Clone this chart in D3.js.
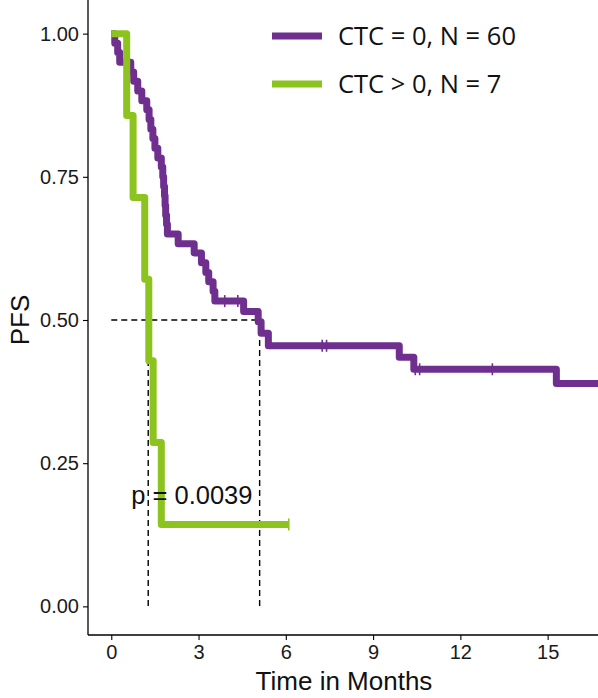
<!DOCTYPE html>
<html><head><meta charset="utf-8">
<script src="https://cdn.jsdelivr.net/npm/d3@7"></script>
<style>body{margin:0;background:#fff}svg{display:block}</style>
</head><body>
<script>
// Data
const groupNames = ["CTC = 0, N = 60", "CTC > 0, N = 7"];
const groupColors = ["#6f2f8f", "#8cc31e"];
const purpleTimes = [0, 0.12, 0.22, 0.29, 0.67, 0.77, 0.91, 1.05, 1.22, 1.30, 1.36, 1.43, 1.50, 1.60, 1.72, 1.77, 1.80, 1.83, 1.85, 1.87, 1.90, 1.93, 2.30, 2.85, 3.10, 3.25, 3.35, 3.50, 3.56, 4.55, 5.05, 5.15, 5.40, 9.90, 10.40, 15.30, 16.8];
const purpleSurv = [1.0, 0.983, 0.967, 0.95, 0.933, 0.917, 0.9, 0.883, 0.867, 0.85, 0.833, 0.817, 0.8, 0.783, 0.767, 0.75, 0.733, 0.717, 0.7, 0.683, 0.667, 0.65, 0.633, 0.617, 0.6, 0.583, 0.567, 0.55, 0.533, 0.515, 0.497, 0.477, 0.455, 0.435, 0.414, 0.389, 0.389];
const purpleCensorTimes = [3.9, 4.35, 7.25, 7.4, 10.45, 10.6, 13.1];
const greenTimes = [0, 0.53, 0.75, 1.15, 1.29, 1.44, 1.72, 6.1];
const greenSurv = [1.0, 0.857, 0.714, 0.571, 0.429, 0.286, 0.143, 0.143];
const greenCensorTimes = [6.1];
const medianTimes = [1.27, 5.1];
const pText = "p = 0.0039";
const xTicks = [0, 3, 6, 9, 12, 15];
const yTicks = [0, 0.25, 0.5, 0.75, 1.0];

const W = 598, H = 698;
const FONT = "'Liberation Sans', Arial, sans-serif";
const svg = d3.select("body").append("svg").attr("width", W).attr("height", H);
const x = d3.scaleLinear().domain([-0.8, 16.8]).range([88, 600]);
const y = d3.scaleLinear().domain([-0.05, 1.05]).range([635, 5]);

const stepSeries = (ts, vs) => ts.map((t, i) => [t, vs[i]]);
const survAt = (ts, vs, t) => { let v = vs[0]; for (let i = 0; i < ts.length; i++) if (ts[i] <= t) v = vs[i]; return v; };

svg.append("defs").append("clipPath").attr("id", "clip")
  .append("rect").attr("x", 88).attr("y", 0).attr("width", 520).attr("height", 640);

// median dashed lines
const dash = svg.append("g").attr("stroke", "#000").attr("stroke-width", 1.4).attr("stroke-dasharray", "6,4").attr("fill", "none");
dash.append("line").attr("x1", x(0)).attr("x2", x(medianTimes[1])).attr("y1", y(0.5)).attr("y2", y(0.5));
medianTimes.forEach(t => dash.append("line").attr("x1", x(t)).attr("x2", x(t)).attr("y1", y(0.5)).attr("y2", y(0)));

const line = d3.line().x(d => x(d[0])).y(d => y(d[1])).curve(d3.curveStepAfter);
const plot = svg.append("g").attr("clip-path", "url(#clip)");
const series = [
  {ts: purpleTimes, vs: purpleSurv, cens: purpleCensorTimes, color: groupColors[0]},
  {ts: greenTimes, vs: greenSurv, cens: greenCensorTimes, color: groupColors[1]}
];
series.forEach(s => {
  plot.append("path").datum(stepSeries(s.ts, s.vs)).attr("d", line)
    .attr("fill", "none").attr("stroke", s.color).attr("stroke-width", 7)
    .attr("stroke-linejoin", "round").attr("stroke-linecap", "butt");
  s.cens.forEach(t => {
    const v = survAt(s.ts, s.vs, t);
    plot.append("line").attr("x1", x(t)).attr("x2", x(t)).attr("y1", y(v) - 6).attr("y2", y(v) + 6)
      .attr("stroke", s.color).attr("stroke-width", 1.6);
  });
});

// axes
const axisColor = "#000";
const gx = svg.append("g").attr("transform", `translate(0,${y(-0.05)})`)
  .call(d3.axisBottom(x).tickValues(xTicks).tickSize(5).tickPadding(5));
const gy = svg.append("g").attr("transform", `translate(${x(-0.8)},0)`)
  .call(d3.axisLeft(y).tickValues(yTicks).tickFormat(d3.format(".2f")).tickSize(5).tickPadding(4));
[gx, gy].forEach(g => {
  g.attr("font-size", null).attr("font-family", null);
  g.select(".domain").attr("stroke", axisColor).attr("stroke-width", 1.3);
  g.selectAll(".tick line").attr("stroke", axisColor).attr("stroke-width", 1.1);
  g.selectAll(".tick text").attr("fill", "#1a1a1a").attr("font-family", FONT).attr("font-size", 20);
});
gy.select(".domain").attr("d", `M0,${y(-0.05)}V0`);
gx.select(".domain").attr("d", `M${x(-0.8)},0H${W}`);

svg.append("text").attr("x", 344).attr("y", 690).attr("text-anchor", "middle")
  .attr("font-family", FONT).attr("font-size", 26).attr("fill", "#111").text("Time in Months");
svg.append("text").attr("transform", `translate(29,${y(0.5)}) rotate(-90)`).attr("text-anchor", "middle")
  .attr("font-family", FONT).attr("font-size", 26).attr("fill", "#111").text("PFS");

svg.append("text").attr("x", x(2.77)).attr("y", y(0.194)).attr("dy", "0.36em").attr("text-anchor", "middle")
  .attr("font-family", FONT).attr("font-size", 25.5).attr("fill", "#111").text(pText);

// legend
const leg = svg.append("g");
groupNames.forEach((n, i) => {
  const yy = 36 + i * 48;
  leg.append("line").attr("x1", 272).attr("x2", 322).attr("y1", yy).attr("y2", yy)
    .attr("stroke", groupColors[i]).attr("stroke-width", 7);
  leg.append("text").attr("x", 338).attr("y", yy).attr("dy", "0.35em")
    .attr("font-family", "'Open Sans', sans-serif").attr("font-size", 25.5).attr("fill", "#111").text(n);
});
</script>
</body></html>
